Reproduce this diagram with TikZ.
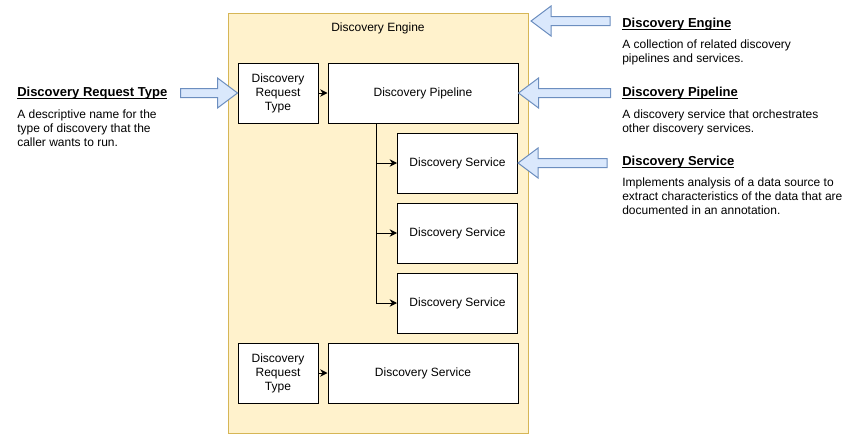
\documentclass[tikz,border=0pt]{standalone}
\usepackage{fontspec}
\setmainfont{Liberation Sans}
\usepackage{tikz}
\usetikzlibrary{arrows.meta}
\definecolor{gelb}{rgb}{1.0,0.9490,0.8}
\definecolor{gelbRand}{rgb}{0.8392,0.7137,0.3373}
\definecolor{hellblau}{rgb}{0.8549,0.9098,0.9882}
\definecolor{hellblauRand}{rgb}{0.4235,0.5569,0.7490}
\tikzstyle{engine} = [draw=gelbRand,fill=gelb,line width=0.75pt,minimum width=225pt,minimum height=315pt,inner sep=0pt]
\tikzstyle{box} = [draw=black,fill=white,line width=0.75pt,minimum height=45pt,inner sep=2pt,align=center,font=\fontsize{9}{10.5}\selectfont]
\tikzstyle{edge} = [-{Stealth[length=5.5pt,width=5.5pt]},line width=0.75pt,draw=black]
\tikzstyle{pfeil} = [draw=hellblauRand,fill=hellblau,line width=0.75pt,line join=miter]
\tikzstyle{titel} = [anchor=west,inner sep=0pt,font=\fontsize{9.75}{11}\selectfont\bfseries]
\tikzstyle{info} = [anchor=west,inner sep=0pt,align=left,font=\fontsize{9}{10.5}\selectfont]
\newcommand{\pfeilLinks}[2]{\draw[pfeil] (#1) -- ++(20,-15) -- ++(0,10.5) -- ++({#2-20},0) -- ++(0,9) -- ++({20-#2},0) -- ++(0,10.5) -- cycle;}
\newcommand{\pfeilRechts}[2]{\draw[pfeil] (#1) -- ++(-20,-15) -- ++(0,10.5) -- ++({20-#2},0) -- ++(0,9) -- ++({#2-20},0) -- ++(0,10.5) -- cycle;}
\newcommand{\strich}[1]{\underline{\raisebox{0pt}[\height][0pt]{#1}}}
\begin{document}
\begin{tikzpicture}[x=0.75pt,y=-0.75pt]
\useasboundingbox (0,0) rectangle (857,439);

\node[engine] (E) at (378,223) {};
\node[font=\fontsize{9}{10.5}\selectfont] (tEngine) at (378,28) {Discovery Engine};

\node[box,minimum width=60pt] (R1) at (278,93) {Discovery\\Request\\Type};
\node[box,minimum width=142.5pt] (P) at (423,93) {Discovery Pipeline};

\node[box,minimum width=90pt] (S1) at (457.5,163) {Discovery Service};
\node[box,minimum width=90pt] (S2) at (457.5,233) {Discovery Service};
\node[box,minimum width=90pt] (S3) at (457.5,303) {Discovery Service};

\node[box,minimum width=60pt] (R2) at (278,373) {Discovery\\Request\\Type};
\node[box,minimum width=142.5pt] (S4) at (423,373) {Discovery Service};

\draw[edge] (R1) -- (P);
\draw[edge] (R2) -- (S4);
\coordinate (T) at (376,123);
\draw[edge] (T) |- (S1.west);
\draw[edge] (T) |- (S2.west);
\draw[edge] (T) |- (S3.west);

\coordinate (EP) at (531,21);
\pfeilLinks{EP}{79}
\pfeilLinks{P.east}{92}
\pfeilLinks{S1.east}{89}
\pfeilRechts{R1.west}{57}

\node[titel] (tE) at (622,24.5) {\strich{Discovery Engine}};
\node[info] (dE) at (622,52.5) {A collection of related discovery\\pipelines and services.};

\node[titel] (tP) at (622,93.5) {\strich{Discovery Pipeline}};
\node[info] (dP) at (622,122.5) {A discovery service that orchestrates\\other discovery services.};

\node[titel] (tS) at (622,162.5) {\strich{Discovery Service}};
\node[info] (dS) at (622,196.5) {Implements analysis of a data source to\\extract characteristics of the data that are\\documented in an annotation.};

\node[titel] (tR) at (17,93.5) {\strich{Discovery Request Type}};
\node[info] (dR) at (17,128.5) {A descriptive name for the\\type of discovery that the\\caller wants to run.};
\end{tikzpicture}
\end{document}
